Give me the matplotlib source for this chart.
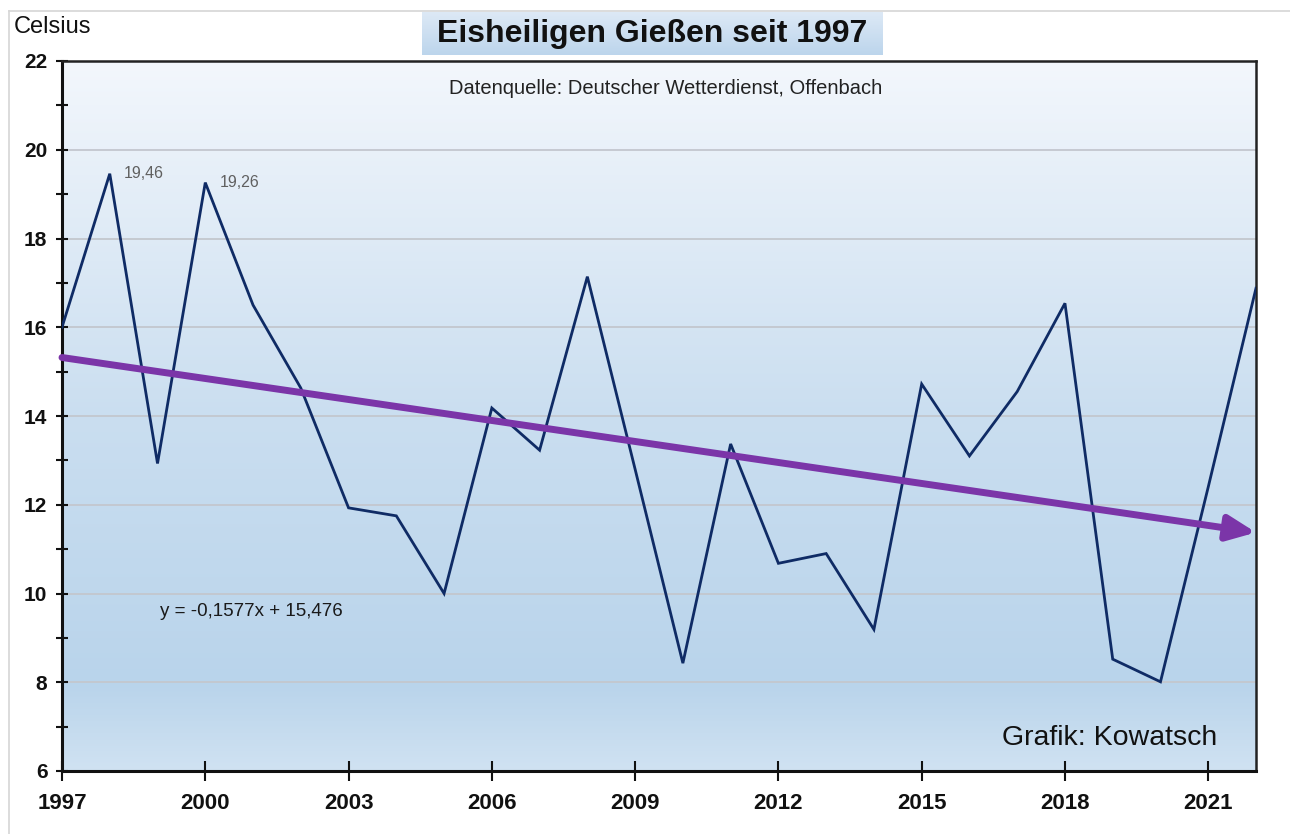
import numpy as np
import matplotlib

matplotlib.use("Agg")
import matplotlib.pyplot as plt
from matplotlib import font_manager
from matplotlib.colors import LinearSegmentedColormap
from matplotlib.lines import Line2D

# Eisheiligen (11.-15. Mai) mean max temperature, Gießen
YEARS = list(range(1997, 2023))
TEMPS = [16.0, 19.46, 12.93, 19.26, 16.5, 14.63, 11.93, 11.75, 10.0, 14.18,
         13.23, 17.14, 12.8, 8.43, 13.37, 10.68, 10.9, 9.19, 14.72, 13.1,
         14.55, 16.54, 8.52, 8.01, 12.4, 16.88]
# linear trend as printed on the chart (x = 1 for 1997)
TREND_SLOPE = -0.1577
TREND_INTERCEPT = 15.476
LABELED_YEARS = [1998, 2000]
X_TICKS = list(range(1997, 2022, 3))
Y_TICKS = list(range(6, 23, 2))

TITLE = "Eisheiligen Gießen seit 1997"
SOURCE = "Datenquelle: Deutscher Wetterdienst, Offenbach"
CREDIT = "Grafik: Kowatsch"
Y_UNIT = "Celsius"

LINE_COLOR = "#0f2b65"
TREND_COLOR = "#7b35a8"
GRID_COLOR = "#c3c7ce"
FONT = "Liberation Sans"
W, H = 1290, 834


def narrow_font():
    try:
        font_manager.findfont(font_manager.FontProperties(family="Liberation Sans Narrow"),
                              fallback_to_default=False)
        return "Liberation Sans Narrow", 17
    except ValueError:
        return FONT, 14.5


def fx(px):
    return px / W


def fy(py):
    return 1 - py / H


plt.rcParams["font.family"] = [FONT, "DejaVu Sans"]
fig = plt.figure(figsize=(12.9, 8.34), dpi=100)

# light frame around the picture
fig.add_artist(Line2D([fx(9), 1], [fy(11), fy(11)], color="#d6d6d6", lw=1.2))
fig.add_artist(Line2D([fx(9), fx(9)], [fy(11), 0], color="#d6d6d6", lw=1.2))

ax = fig.add_axes([fx(62), 1 - 771 / H, (1256 - 62) / W, (771 - 61) / H])

bg = LinearSegmentedColormap.from_list(
    "bg", [(0.0, "#d0e2f2"), (0.12, "#b9d4eb"), (0.5, "#cadef0"), (1.0, "#f3f7fc")])
grad = np.linspace(0, 1, 256).reshape(-1, 1)
ax.imshow(grad, extent=[YEARS[0], YEARS[-1], Y_TICKS[0], Y_TICKS[-1]],
          aspect="auto", cmap=bg, origin="lower", zorder=0)

ax.plot(YEARS, TEMPS, color=LINE_COLOR, lw=2.0, zorder=3, solid_joinstyle="miter")

idx = np.arange(1, len(YEARS) + 1)
trend = TREND_SLOPE * idx + TREND_INTERCEPT
ax.annotate("", xy=(YEARS[-1], trend[-1]), xytext=(YEARS[0], trend[0]),
            arrowprops=dict(arrowstyle="-|>,head_length=0.85,head_width=0.38",
                            color=TREND_COLOR, lw=5, mutation_scale=20,
                            shrinkA=0, shrinkB=0),
            zorder=4)

for yr in LABELED_YEARS:
    val = TEMPS[YEARS.index(yr)]
    ax.annotate(f"{val:.2f}".replace(".", ","), xy=(yr, val), xytext=(14, 0),
                textcoords="offset pixels", fontsize=11.5, color="#606060",
                va="center", ha="left")

ax.set_xlim(YEARS[0], YEARS[-1])
ax.set_ylim(Y_TICKS[0], Y_TICKS[-1])
ax.set_xticks(X_TICKS)
ax.set_yticks(Y_TICKS)
ax.set_yticks(range(7, 22, 2), minor=True)
ax.grid(axis="y", which="major", color=GRID_COLOR, lw=1.3)
ax.set_axisbelow(True)
ax.tick_params(axis="x", direction="inout", length=15, width=1.5, pad=8,
               labelsize=16, colors="#111111")
ax.tick_params(axis="y", which="both", direction="inout", length=9, width=1.5,
               pad=6, labelsize=15, colors="#111111")
for lab in ax.get_xticklabels() + ax.get_yticklabels():
    lab.set_fontweight("bold")
for side in ("left", "bottom"):
    ax.spines[side].set_linewidth(2.2)
    ax.spines[side].set_color("#111111")
for side in ("top", "right"):
    ax.spines[side].set_linewidth(1.8)
    ax.spines[side].set_color("#222222")

nfam, nsize = narrow_font()
fig.text(fx(666), fy(89), SOURCE, ha="center", va="center",
         family=[nfam, FONT], fontsize=nsize, color="#222222")
fig.text(fx(160), fy(611), f"y = {TREND_SLOPE}x + {TREND_INTERCEPT}".replace(".", ","),
         ha="left", va="center", fontsize=13.5, color="#1a1a1a")
fig.text(fx(1217), fy(738), CREDIT, ha="right", va="center",
         fontsize=20.5, color="#111111")
fig.text(fx(14), fy(27), Y_UNIT, ha="left", va="center", fontsize=17, color="#111111")

# title on a light blue band
tax = fig.add_axes([fx(422), fy(55), (883 - 422) / W, (55 - 12) / H])
band = LinearSegmentedColormap.from_list("band", ["#bcd5ec", "#dde9f6"])
tax.imshow(grad, aspect="auto", cmap=band, origin="lower")
tax.axis("off")
fig.text(fx(652), fy(34), TITLE, ha="center", va="center",
         fontsize=23, fontweight="bold", color="#111111", zorder=5)

fig.savefig("out.png", dpi=100, facecolor="white")
